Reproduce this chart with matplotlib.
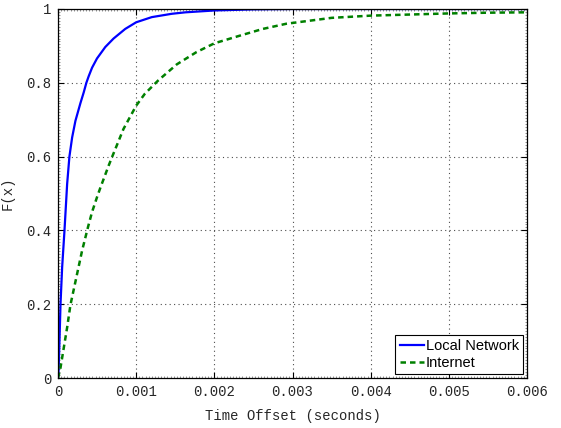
import matplotlib
matplotlib.use('Agg')
import matplotlib.pyplot as plt
from matplotlib.ticker import AutoMinorLocator

# CDF readings from the picture
local_x = [0, 0.000006, 0.000019, 0.000032, 0.000053, 0.000083, 0.000117, 0.000146,
           0.000181, 0.000223, 0.000287, 0.000329, 0.000363, 0.000393, 0.000436,
           0.000499, 0.000605, 0.000711, 0.00086, 0.001, 0.0012, 0.001455,
           0.00163, 0.002, 0.0025, 0.003, 0.006]
local_f = [0, 0.01, 0.1, 0.2, 0.3, 0.4, 0.526, 0.6,
           0.652, 0.697, 0.745, 0.774, 0.8, 0.818, 0.841,
           0.866, 0.897, 0.92, 0.946, 0.964, 0.978, 0.987,
           0.991, 0.996, 0.999, 1.0, 1.0]

inet_x = [0, 0.000032, 0.000074, 0.000117, 0.000159, 0.000232, 0.000308, 0.000385,
          0.000436, 0.000499, 0.000541, 0.000647, 0.00069, 0.000838, 0.001,
          0.00111, 0.00128, 0.00152, 0.00177, 0.002, 0.00233, 0.00262,
          0.00292, 0.0035, 0.004, 0.0045, 0.005, 0.0055, 0.006]
inet_f = [0, 0.028, 0.082, 0.137, 0.198, 0.27, 0.345, 0.41,
          0.45, 0.49, 0.515, 0.575, 0.598, 0.675, 0.738,
          0.77, 0.806, 0.85, 0.883, 0.907, 0.928, 0.946,
          0.96, 0.976, 0.982, 0.985, 0.988, 0.99, 0.991]

x_ticks = [0, 0.001, 0.002, 0.003, 0.004, 0.005, 0.006]
x_labels = ['0', '0.001', '0.002', '0.003', '0.004', '0.005', '0.006']
y_ticks = [0, 0.2, 0.4, 0.6, 0.8, 1.0]
y_labels = ['0', '0.2', '0.4', '0.6', '0.8', '1']

mono = 'Liberation Mono'

fig = plt.figure(figsize=(5.61, 4.28), dpi=100)
ax = fig.add_axes([58/561, 1-378/428, (527-58)/561, (378-9)/428])

ax.plot(local_x, local_f, color='blue', lw=1.6, label='Local Network')
ax.plot(inet_x, inet_f, color='green', lw=1.8, ls=(0, (2.2, 1.6)), label='Internet')

ax.set_xlim(0, 0.006)
ax.set_ylim(0, 1)
ax.set_xticks(x_ticks)
ax.set_xticklabels(x_labels, fontfamily=mono, fontsize=10, color='0.15')
ax.set_yticks(y_ticks)
ax.set_yticklabels(y_labels, fontfamily=mono, fontsize=10, color='0.15')
ax.xaxis.set_minor_locator(AutoMinorLocator(25))
ax.yaxis.set_minor_locator(AutoMinorLocator(25))
ax.tick_params(which='both', direction='in', top=True, right=True)
ax.tick_params(which='major', length=4, width=0.8, pad=5)
ax.tick_params(which='minor', length=1.5, width=0.5, color='0.4')

ax.grid(True, which='major', ls=(0, (1, 3)), color='0.3', lw=0.8)

ax.set_xlabel('Time Offset (seconds)', fontfamily=mono, fontsize=10, labelpad=7, color='0.15')
ax.set_ylabel('F(x)', fontfamily=mono, fontsize=10, labelpad=8, color='0.15')

for s in ax.spines.values():
    s.set_linewidth(0.9)

leg = ax.legend(loc='lower right', prop={'family': 'Liberation Sans', 'size': 10.5},
                handlelength=1.7, handletextpad=0.1, borderpad=0.3,
                labelspacing=0.2, fancybox=False, framealpha=1,
                edgecolor='black', borderaxespad=0.25)
leg.get_frame().set_linewidth(0.8)

fig.savefig('out.png', dpi=100)
